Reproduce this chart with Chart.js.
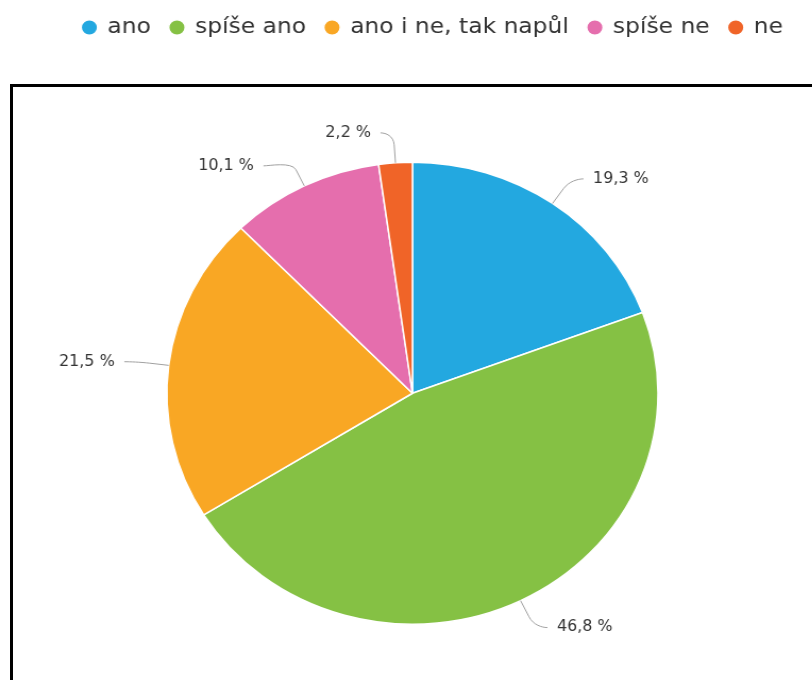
<!DOCTYPE html>
<html>
<head>
<meta charset="utf-8">
<script src="https://cdn.jsdelivr.net/npm/chart.js@4.4.0/dist/chart.umd.min.js"></script>
<style>
  html, body { margin: 0; padding: 0; background: #fff; }
  body { width: 812px; height: 680px; overflow: hidden; position: relative; }
  #frame { position: absolute; left: 10px; top: 84px; width: 860px; height: 660px; border: 3px solid #000; }
  /* chart is laid out slightly narrower and stretched back out horizontally */
  #wrap { position: absolute; left: 0; top: -2px; width: 764px; height: 740px; transform: scaleX(1.063); transform-origin: 0 0; }
</style>
</head>
<body>
<div id="frame"></div>
<div id="wrap"><canvas id="pie"></canvas></div>
<script>
const labels = ['ano', 'spíše ano', 'ano i ne, tak napůl', 'spíše ne', 'ne'];
const values = [19.3, 46.8, 21.5, 10.1, 2.2];
const colors = ['#23a8e0', '#85c144', '#f9a724', '#e56ead', '#f06428'];

const fmt = v => v.toFixed(1).replace('.', ',') + ' %';

// percent labels outside the pie, joined to their slice by a bent connector
const outsideLabels = {
  id: 'outsideLabels',
  afterDatasetsDraw(chart) {
    const ctx = chart.ctx;
    const arcs = chart.getDatasetMeta(0).data;
    const dist = 30, bend = 18, gap = 33;

    const items = arcs.map((arc, i) => {
      const p = arc.getProps(['x', 'y', 'startAngle', 'endAngle', 'outerRadius'], true);
      const mid = (p.startAngle + p.endAngle) / 2;
      const R = p.outerRadius + dist;
      return { i, p, mid, R, left: Math.cos(mid) < 0, y: p.y + Math.sin(mid) * R };
    });

    // keep labels on one side from overlapping
    [true, false].forEach(left => {
      const side = items.filter(it => it.left === left).sort((a, b) => a.y - b.y);
      for (let k = 1; k < side.length; k++) {
        if (side[k].y - side[k - 1].y < gap) side[k].y = side[k - 1].y + gap;
      }
    });

    ctx.save();
    ctx.font = '15px "DejaVu Sans"';
    ctx.textBaseline = 'middle';
    items.forEach(it => {
      const { p, mid, R } = it;
      const dir = it.left ? -1 : 1;
      const dy = it.y - p.y;
      const x = p.x + dir * Math.sqrt(Math.max(R * R - dy * dy, 0));
      const tx = p.x + Math.cos(mid) * p.outerRadius;
      const ty = p.y + Math.sin(mid) * p.outerRadius;
      const bx = p.x + Math.cos(mid) * (p.outerRadius + bend);
      const by = p.y + Math.sin(mid) * (p.outerRadius + bend);
      const ex = x + dir * 12;

      ctx.beginPath();
      ctx.moveTo(ex, it.y);
      ctx.bezierCurveTo(ex - dir * 5, it.y, bx + (bx - tx) * 0.5, by + (by - ty) * 0.5, bx, by);
      ctx.lineTo(tx, ty);
      ctx.strokeStyle = '#a0a0a0';
      ctx.lineWidth = 1;
      ctx.stroke();

      ctx.fillStyle = '#333';
      ctx.textAlign = it.left ? 'right' : 'left';
      ctx.fillText(fmt(values[it.i]), x + dir * 21, it.y);
    });
    ctx.restore();
  }
};

new Chart(document.getElementById('pie'), {
  type: 'pie',
  data: {
    labels: labels,
    datasets: [{
      data: values,
      backgroundColor: colors,
      borderColor: '#fff',
      borderWidth: 1.5,
      radius: 231
    }]
  },
  options: {
    responsive: true,
    maintainAspectRatio: false,
    animation: false,
    events: [],
    layout: { padding: { left: 20.9, right: 8.9, top: 0, bottom: 0 } },
    plugins: {
      tooltip: { enabled: false },
      legend: {
        position: 'top',
        align: 'end',
        labels: {
          usePointStyle: true,
          pointStyle: 'circle',
          boxWidth: 12,
          boxHeight: 11,
          padding: 18.5,
          color: '#333',
          font: { family: '"DejaVu Sans"', size: 22 }
        }
      }
    }
  },
  plugins: [outsideLabels]
});
</script>
</body>
</html>
